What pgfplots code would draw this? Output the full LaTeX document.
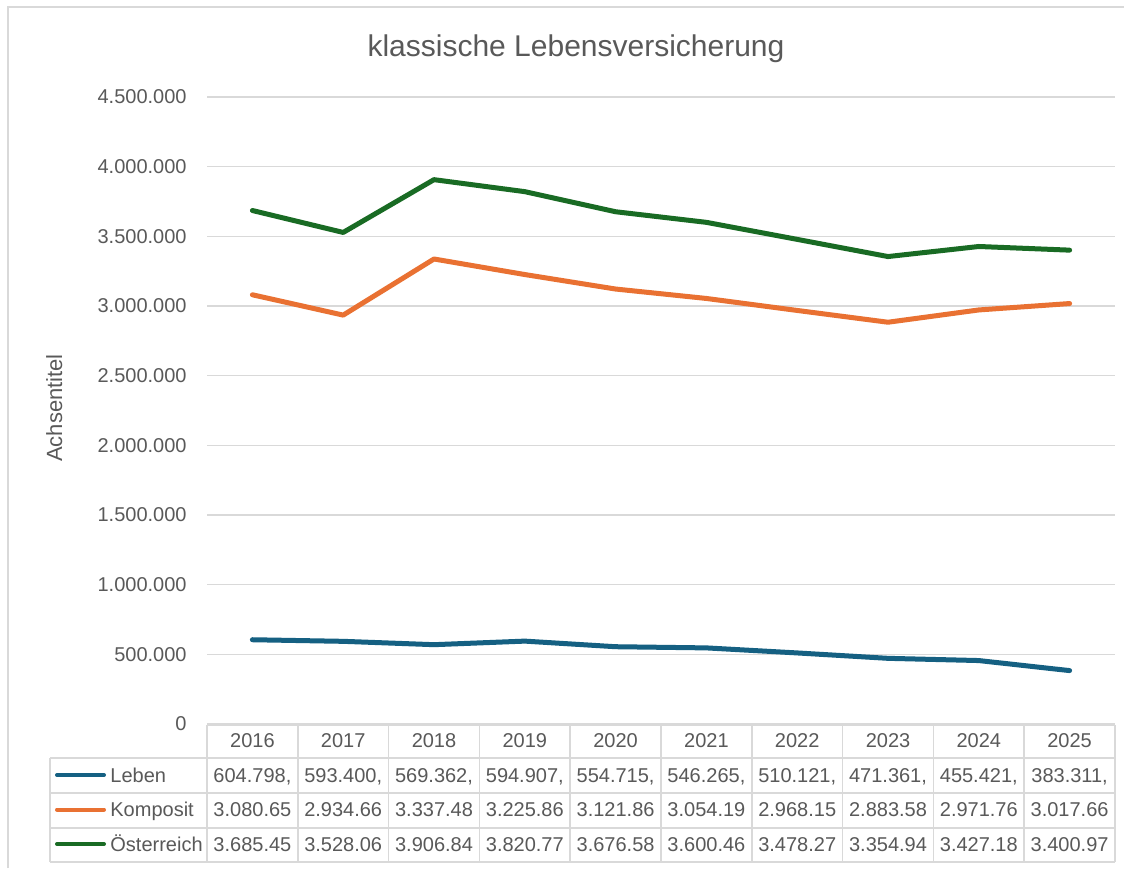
\documentclass[border=0pt]{standalone}
\usepackage{pgfplots}
\pgfplotsset{compat=1.18}
\usepackage{fontspec}
\setmainfont{Liberation Sans}
\definecolor{cLeben}{HTML}{156082}
\definecolor{cKomp}{HTML}{E97132}
\definecolor{cOest}{HTML}{196B24}
\definecolor{cTxt}{HTML}{595959}
\definecolor{cGrid}{HTML}{D9D9D9}
\begin{document}
\begin{tikzpicture}
\useasboundingbox (0pt,0pt) rectangle (562pt,-434pt);
\fill[white] (0pt,0pt) rectangle (562pt,-434pt);
\begin{scope}[x=0.5pt,y=-0.5pt]
\draw[cGrid, line width=0.75pt] (8,868) -- (8,7) -- (1124,7);
\node[anchor=base, text=cTxt, font=\fontsize{15}{18}\selectfont] at (576,56) {klassische Lebensversicherung};
\node[rotate=90, anchor=base, inner sep=0pt, text=cTxt, font=\fontsize{11}{13}\selectfont] at (62,408) {Achsentitel};
\end{scope}
\begin{axis}[
  at={(103.5pt,-362pt)}, anchor=south west,
  scale only axis, width=454pt, height=313.5pt,
  xmin=-0.5, xmax=9.5, ymin=0, ymax=4500000,
  hide x axis,
  axis y line*=left,
  y axis line style={draw=none},
  ytick distance=500000,
  scaled y ticks=false,
  ymajorgrids, grid style={cGrid, line width=0.75pt},
  major tick length=0pt,
  yticklabel style={anchor=east, inner sep=0pt, xshift=-10pt, text=cTxt, font=\fontsize{10}{12}\selectfont, /pgf/number format/.cd, fixed, precision=0, 1000 sep={.}, assume math mode=true},
  every axis plot/.append style={line width=2.5pt, line join=round, line cap=round},
]
\addplot[cLeben] coordinates {(0,604798) (1,593400) (2,569362) (3,594907) (4,554715) (5,546265) (6,510121) (7,471361) (8,455421) (9,383311)};
\addplot[cKomp] coordinates {(0,3080650) (1,2934660) (2,3337480) (3,3225860) (4,3121860) (5,3054190) (6,2968150) (7,2883580) (8,2971760) (9,3017660)};
\addplot[cOest] coordinates {(0,3685450) (1,3528060) (2,3906840) (3,3820770) (4,3676580) (5,3600460) (6,3478270) (7,3354940) (8,3427180) (9,3400970)};
\end{axis}
\begin{scope}[x=0.5pt,y=-0.5pt]
\begin{scope}[cGrid, line width=0.75pt]
\draw (207,725) -- (1115,725);
\foreach \yy in {758,793,828,862} \draw (50,\yy) -- (1115,\yy);
\draw (50,758) -- (50,862);
\foreach \k in {0,...,10} \draw ({207+90.8*\k},725) -- ({207+90.8*\k},862);
\end{scope}
\begin{scope}[every node/.style={text=cTxt, font=\fontsize{10}{12}\selectfont, inner sep=0pt}]
\foreach \t [count=\i from 0] in {2016,2017,2018,2019,2020,2021,2022,2023,2024,2025}
  \node[anchor=base] at ({252.4+90.8*\i},747.5) {\t};
\foreach \t [count=\i from 0] in {{604.798,},{593.400,},{569.362,},{594.907,},{554.715,},{546.265,},{510.121,},{471.361,},{455.421,},{383.311,}}
  \node[anchor=base] at ({252.4+90.8*\i},782) {\t};
\foreach \t [count=\i from 0] in {3.080.65,2.934.66,3.337.48,3.225.86,3.121.86,3.054.19,2.968.15,2.883.58,2.971.76,3.017.66}
  \node[anchor=base] at ({252.4+90.8*\i},816.5) {\t};
\foreach \t [count=\i from 0] in {3.685.45,3.528.06,3.906.84,3.820.77,3.676.58,3.600.46,3.478.27,3.354.94,3.427.18,3.400.97}
  \node[anchor=base] at ({252.4+90.8*\i},851) {\t};
\draw[cLeben, line width=2pt, line cap=round] (57,775) -- (104,775);
\draw[cKomp, line width=2pt, line cap=round] (57,809.5) -- (104,809.5);
\draw[cOest, line width=2pt, line cap=round] (57,844) -- (104,844);
\node[anchor=base west] at (110,782) {Leben};
\node[anchor=base west] at (110,816.5) {Komposit};
\node[anchor=base west] at (110,851) {Österreich};
\end{scope}
\end{scope}
\end{tikzpicture}
\end{document}
